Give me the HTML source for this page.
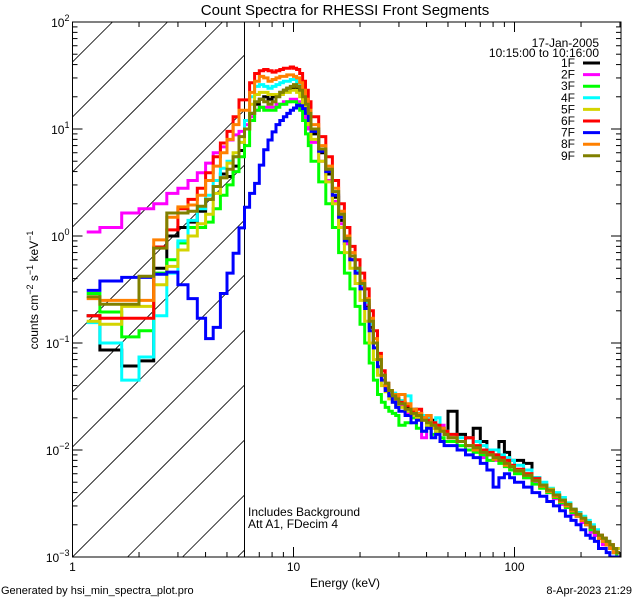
<!DOCTYPE html>
<html><head><meta charset="utf-8"><style>
html,body{margin:0;padding:0;background:#fff;width:640px;height:600px;overflow:hidden;}
svg{display:block;font-family:"Liberation Sans",sans-serif;overflow:hidden;}
</style></head><body>
<svg id="chart" width="640" height="600" xmlns="http://www.w3.org/2000/svg">
<defs><clipPath id="plotclip"><rect x="72.5" y="22" width="548.5" height="535"/></clipPath>
<clipPath id="hatchclip"><rect x="72.5" y="22" width="172" height="535"/></clipPath></defs>
<text x="345" y="15" font-size="15" text-anchor="middle">Count Spectra for RHESSI Front Segments</text>
<g id="hatch" clip-path="url(#hatchclip)"></g>
<line x1="244.5" y1="22" x2="244.5" y2="557" stroke="#000" stroke-width="1"/>
<g id="series" clip-path="url(#plotclip)"></g>
<rect x="72.5" y="22" width="548.5" height="535" fill="none" stroke="#000" stroke-width="1"/>
<g id="axes"></g>
<text transform="translate(38,290) rotate(-90)" font-size="12" text-anchor="middle">counts cm<tspan dy="-5" font-size="9">−2</tspan><tspan dy="5"> s</tspan><tspan dy="-5" font-size="9">−1</tspan><tspan dy="5"> keV</tspan><tspan dy="-5" font-size="9">−1</tspan></text>
<text x="345" y="587" font-size="12" text-anchor="middle">Energy (keV)</text>
<text x="248" y="516" font-size="12">Includes Background</text>
<text x="248" y="528" font-size="12">Att A1, FDecim  4</text>
<text x="1" y="594" font-size="11">Generated by hsi_min_spectra_plot.pro</text>
<text x="632" y="594" font-size="11" text-anchor="end">8-Apr-2023 21:29</text>
<text x="599" y="47" font-size="12" text-anchor="end">17-Jan-2005</text>
<text x="599" y="57" font-size="12" text-anchor="end">10:15:00 to 10:16:00</text>
<g id="legend"></g>
</svg>
<script>
const edges=[1.16,1.33,1.67,2,2.33,2.67,3,3.33,3.67,4,4.33,4.67,5,5.33,5.67,6,6.33,6.67,7,7.33,7.67,8,8.33,8.67,9,9.33,9.67,10,10.33,10.67,11,11.33,11.67,12,13,14,15,16,17,18,19,20,21,22,23,24,25,26,27,28,29,30,32,34,36,38,40,42,44,46,48,50,55,60,65,70,75,80,85,90,95,100,110,120,130,140,150,160,170,180,190,200,210,220,230,240,250,260,270,280,290,300];
const seriesNames=["1F","2F","3F","4F","5F","6F","7F","8F","9F"];
const seriesColors=["#000000","#ff00ff","#00ff00","#00ffff","#d4d400","#ff0000","#0000ff","#ff8000","#808000"];
const s1F=[0.18,0.086,0.061,0.068,0.5,1.0,1.2,1.35,1.7,2.2,2.9,3.8,3.6,4.5,6.3, 10,14,17,19,20,19,20,21,22,23,24,24,25,24,22,19,16,13, 9,6,3.8,2.3,1.4,0.85,0.6,0.45,0.33,0.22,0.14,0.1,0.07,0.05,0.038,0.034,0.031,0.03, 0.028,0.025,0.024,0.022,0.02,0.018,0.019,0.017,0.016,0.015, 0.023,0.014,0.013,0.016,0.012,0.01,0.009,0.012,0.0095,0.008, 0.008,0.0075,0.0055,0.0047,0.0042,0.0038,0.0034,0.003,0.0028,0.0026,0.0022,0.002,0.0018,0.0016,0.0015,0.0014,0.0013,0.0012,0.0011,0.0011];
const s2F=[1.09,1.2,1.64,1.8,2.0,2.5,2.8,3.3,3.9,4.8,6.0,6.8,7.9,8.8,9.5, 11,13,15,16,16,16,16,17,17,18,18,19,19,18,17,15,12,10, 7.5,5,3.3,2.1,1.3,0.85,0.6,0.45,0.33,0.23,0.15,0.1,0.07,0.05,0.04,0.035,0.03,0.028, 0.026,0.022,0.02,0.021,0.013,0.019,0.016,0.015,0.017,0.014, 0.013,0.012,0.011,0.01,0.0085,0.009,0.008,0.0085,0.0075,0.007, 0.0062,0.0055,0.005,0.0045,0.004,0.0035,0.0031,0.0029,0.0025,0.0024,0.0021,0.002,0.0017,0.0016,0.0015,0.0013,0.0013,0.0012,0.0011,0.001];
const s3F=[0.29,0.195,0.114,0.13,0.45,0.6,0.86,1.2,1.2,1.35,1.8,2.4,3.0,4.0,5.5, 7,12,15,16,15,15,15,16,17,17,18,18,18,17,15,12,9,7, 5,3.2,2.0,1.2,0.7,0.45,0.32,0.22,0.15,0.1,0.065,0.045,0.033,0.028,0.025,0.023,0.022,0.021, 0.017,0.018,0.02,0.016,0.015,0.017,0.014,0.016,0.013,0.012, 0.012,0.011,0.01,0.0095,0.009,0.008,0.0085,0.0075,0.007,0.0065, 0.006,0.0055,0.0048,0.0044,0.004,0.0036,0.0032,0.0029,0.0026,0.0024,0.0022,0.002,0.0018,0.0017,0.0015,0.0014,0.0013,0.0012,0.0011,0.001];
const s4F=[0.155,0.1,0.045,0.074,0.18,0.45,0.9,1.4,1.8,2.4,3.3,4.3,5.0,5.5,7.5, 12,20,25,26,25,24,25,26,27,28,28,29,29,27,25,21,17,14, 10,6.5,4.2,2.6,1.6,0.95,0.65,0.48,0.35,0.24,0.15,0.1,0.07,0.05,0.04,0.035,0.034,0.03, 0.029,0.032,0.024,0.022,0.021,0.02,0.018,0.02,0.016,0.015, 0.014,0.013,0.013,0.012,0.011,0.01,0.01,0.009,0.0085,0.008, 0.0072,0.0065,0.0055,0.005,0.0044,0.004,0.0036,0.0032,0.0028,0.0026,0.0024,0.0022,0.002,0.0018,0.0016,0.0015,0.0014,0.0013,0.0011,0.0012];
const s5F=[0.16,0.15,0.22,0.22,0.35,0.52,0.74,1.0,1.3,1.6,2.5,3.5,4.8,6.0,7.5, 10,17,21,22,22,21,21,21,21,22,22,23,23,22,20,17,14,11, 8,5,3.2,2.0,1.2,0.7,0.5,0.36,0.25,0.16,0.1,0.07,0.05,0.04,0.035,0.03,0.028,0.026, 0.025,0.023,0.021,0.02,0.019,0.017,0.016,0.015,0.015,0.014, 0.013,0.012,0.011,0.01,0.0095,0.009,0.0085,0.008,0.0075,0.007, 0.0065,0.006,0.0052,0.0047,0.0043,0.0038,0.0034,0.003,0.0027,0.0025,0.0023,0.0021,0.0019,0.0017,0.0016,0.0015,0.0014,0.0013,0.0012,0.0012];
const s6F=[0.18,0.17,0.17,0.17,0.79,1.14,1.8,2.2,2.8,3.9,5.5,7.4,9.5,13,18.7, 18.7,27,33,35,36,35,34,35,36,37,37,38,37,36,33,28,23,18, 13,8.5,5.5,3.3,2.0,1.2,0.8,0.6,0.45,0.32,0.2,0.13,0.08,0.055,0.042,0.036,0.033,0.03, 0.028,0.026,0.023,0.024,0.02,0.019,0.018,0.017,0.016,0.015, 0.014,0.012,0.013,0.011,0.01,0.0095,0.009,0.0085,0.008,0.0072, 0.0066,0.006,0.0054,0.0046,0.0042,0.0037,0.0033,0.003,0.0027,0.0025,0.0022,0.0021,0.0019,0.0017,0.0016,0.0015,0.0013,0.0013,0.0012,0.0011];
const s7F=[0.31,0.38,0.41,0.41,0.44,0.46,0.35,0.26,0.17,0.11,0.14,0.29,0.45,0.69,1.19, 1.86,2.5,3.1,4.6,6.4,7.9,9.4,11,12,13,14,15,15.7,16.7,16.5,15.5,14,12, 9.5,6.2,4,2.4,1.5,0.9,0.6,0.45,0.32,0.21,0.13,0.09,0.06,0.045,0.036,0.032,0.028,0.025, 0.023,0.021,0.018,0.019,0.015,0.016,0.013,0.014,0.012,0.011, 0.011,0.01,0.009,0.0085,0.0075,0.0065,0.0045,0.0055,0.006,0.0055, 0.005,0.0045,0.004,0.0037,0.0033,0.003,0.0027,0.0024,0.0022,0.002,0.0018,0.0016,0.0015,0.0014,0.0012,0.0012,0.0011,0.001,0.001,0.001];
const s8F=[0.26,0.25,0.25,0.25,0.92,1.5,1.87,1.95,2.4,3.3,4.5,6,8,11,15, 15,22,28,31,30,28,29,30,31,31,32,32,31,30,27,23,19,15, 11,7,4.5,2.8,1.7,1.0,0.7,0.5,0.38,0.26,0.17,0.11,0.075,0.05,0.04,0.036,0.033,0.031, 0.033,0.027,0.024,0.022,0.02,0.021,0.017,0.016,0.016,0.014, 0.013,0.012,0.011,0.01,0.0095,0.009,0.0082,0.008,0.0072,0.007, 0.0064,0.0058,0.0052,0.0046,0.0041,0.0037,0.0033,0.003,0.0027,0.0024,0.0022,0.002,0.0019,0.0017,0.0015,0.0014,0.0013,0.0012,0.0011,0.0011];
const s9F=[0.27,0.23,0.23,0.42,0.77,1.64,1.64,1.7,1.9,2.2,2.9,3.5,4.2,5.5,8.5, 10,14,18,19,18,17,18,20,22,23,24,25,26,25,23,20,17,14, 10,6.5,4.2,2.6,1.6,0.95,0.65,0.5,0.36,0.25,0.16,0.1,0.07,0.05,0.042,0.036,0.032,0.03, 0.027,0.024,0.022,0.021,0.019,0.018,0.017,0.016,0.015,0.014, 0.013,0.012,0.011,0.0105,0.0095,0.009,0.0085,0.008,0.0075,0.007, 0.0064,0.0058,0.0052,0.0047,0.0042,0.0038,0.0034,0.0031,0.0028,0.0025,0.0023,0.0021,0.0019,0.0017,0.0016,0.0015,0.0014,0.0013,0.0012,0.0011];
const seriesValues=[s1F,s2F,s3F,s4F,s5F,s6F,s7F,s8F,s9F];
const xTickMajor=[1,10,100];
const xTickLabels=["1","10","100"];
const yTickExp=[-3,-2,-1,0,1,2];

const NS="http://www.w3.org/2000/svg";
const X0=72.5,X1=621,Y0=22,Y1=557,DEC=221,XH=244.5;
function xs(e){return X0+DEC*Math.log10(e);}
function ys(v){return Math.min(Y1,Y0+(2-Math.log10(v))*(Y1-Y0)/5);}
function mk(tag,attrs,parent){const el=document.createElementNS(NS,tag);for(const k in attrs)el.setAttribute(k,attrs[k]);parent.appendChild(el);return el;}

const hatch=document.getElementById('hatch');
for(let i=0;i<14;i++){
  const yb=Y1+165-i*55;
  let xa=X0,ya=yb;
  if(ya>Y1){xa=X0+(ya-Y1);ya=Y1;}
  let xb=XH,yEnd=yb-(XH-X0);
  if(yEnd<Y0){xb=X0+(yb-Y0);yEnd=Y0;}
  if(xa>=xb)continue;
  const ln=mk('line',{x1:xa,y1:ya,x2:xb,y2:yEnd,stroke:'#000','stroke-width':0.8},hatch);
  
  
}

const sg=document.getElementById('series');
seriesValues.forEach((vals,si)=>{
  let pts=[];
  vals.forEach((v,i)=>{const y=ys(v);pts.push(xs(edges[i]).toFixed(1)+','+y.toFixed(1));pts.push(Math.min(X1,xs(edges[i+1])).toFixed(1)+','+y.toFixed(1));});
  const pl=mk('polyline',{points:pts.join(' '),fill:'none',stroke:seriesColors[si],'stroke-width':3,'stroke-linejoin':'miter'},sg);
  
  
});

const ax=document.getElementById('axes');
for(let d=0;d<3;d++){
  for(let m=1;m<10;m++){
    const e=m*Math.pow(10,d);if(e>303)break;
    const x=xs(e);const L=m===1?10:5;
    const t1=mk('line',{x1:x,y1:Y1,x2:x,y2:Y1-L,stroke:'#000'},ax);
    
    
    const t2=mk('line',{x1:x,y1:Y0,x2:x,y2:Y0+L,stroke:'#000'},ax);
    
    
  }
}
xTickMajor.forEach((e,i)=>{
  const t=mk('text',{x:xs(e),y:Y1+14,'font-size':12,'text-anchor':'middle'},ax);
  t.textContent=xTickLabels[i];
  
  
});
yTickExp.forEach(p=>{
  for(let m=1;m<10;m++){
    if(p===2&&m>1)break;
    const y=ys(m*Math.pow(10,p));const L=m===1?10:5;
    const a=mk('line',{x1:X0,y1:y,x2:X0+L,y2:y,stroke:'#000'},ax);
    
    
    const b=mk('line',{x1:X1,y1:y,x2:X1-L,y2:y,stroke:'#000'},ax);
    
    
  }
  const t=mk('text',{x:X0-3,y:ys(Math.pow(10,p))+5,'font-size':12,'text-anchor':'end'},ax);
  
  
  const b=document.createElementNS(NS,'tspan');b.textContent='10';t.appendChild(b);
  const s=document.createElementNS(NS,'tspan');s.setAttribute('dy','-6');s.setAttribute('font-size','9');s.textContent=(p<0?'−':'')+Math.abs(p);t.appendChild(s);
});

const lg=document.getElementById('legend');
seriesNames.forEach((n,i)=>{
  const y=63+i*11.6;
  const t=mk('text',{x:575,y:y+4,'font-size':12,'text-anchor':'end'},lg);
  t.textContent=n;
  
  
  const l=mk('line',{x1:583,y1:y,x2:600,y2:y,stroke:seriesColors[i],'stroke-width':3},lg);
  
  
});
</script>
</body></html>
